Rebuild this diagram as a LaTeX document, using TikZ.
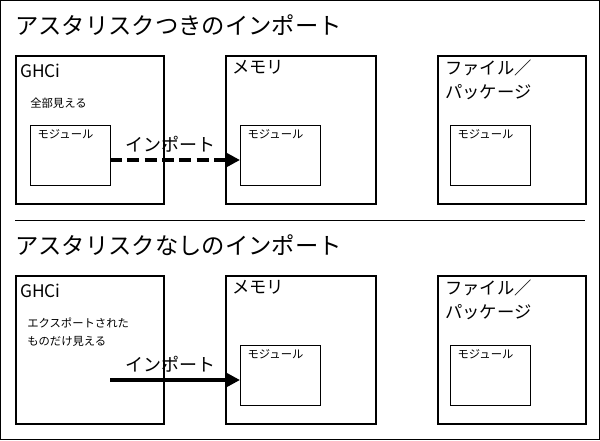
\documentclass[tikz,border=0pt]{standalone}
\usepackage{fontspec}
\setmainfont{Noto Sans CJK JP}
\usetikzlibrary{arrows.meta}
\begin{document}
\begin{tikzpicture}[x=0.75pt,y=-0.75pt,
  box/.style={draw,line width=1.5pt,minimum height=111pt,anchor=north west,inner sep=0},
  inner/.style={draw,fill=white,line width=0.6pt,minimum width=60pt,minimum height=45pt,anchor=north west},
  ttl/.style={anchor=west,font=\fontsize{17.5}{19}\selectfont,inner sep=0},
  lbl/.style={anchor=north west,font=\fontsize{13}{14}\selectfont,inner sep=0},
  sm/.style={anchor=north west,font=\fontsize{8.5}{13}\selectfont,inner sep=0,align=left},
  arr/.style={line width=2.5pt,-{Triangle[length=10pt,width=10pt]}}]
\draw[line width=0.75pt] (0.5,0.5) rectangle (599.5,439.5);
\useasboundingbox (0,0) rectangle (600,440);
\foreach \y/\t/\s in {0/a/アスタリスクつきのインポート, 220/b/アスタリスクなしのインポート}{
  \node[ttl] (t\t) at (15,25+\y) {\s};
  \node[box,minimum width=111pt] (g\t) at (15,55+\y) {};
  \node[box,minimum width=112.5pt] (m\t) at (225,55+\y) {};
  \node[box,minimum width=111pt] (f\t) at (437,55+\y) {};
  \node[lbl] (gl\t) at (20,64+\y) {GHCi};
  \node[lbl] (ml\t) at (232,60+\y) {メモリ};
  \node[lbl,align=left] (fl\t) at (445,60+\y) {ファイル／\\[4pt]パッケージ};
}
\node[sm] (s1) at (30,98) {全部見える};
\node[sm] (s2) at (27,318) {エクスポートされた\\ものだけ見える};
\node[inner] (i1) at (30,125) {};
\node[inner] (i2) at (240,125) {};
\node[inner] (i3) at (450,125) {};
\node[inner] (i4) at (240,345) {};
\node[inner] (i5) at (450,345) {};
\foreach \i in {1,...,5}{\node[sm] at ([xshift=5.5pt,yshift=-3pt]i\i.north west) {モジュール};}
\coordinate (c1) at (110,160);
\coordinate (c2) at (110,380);
\draw[arr,dash pattern=on 9pt off 4pt] (c1) -- (i2.west |- c1);
\draw[arr] (c2) -- (i4.west |- c2);
\node[font=\fontsize{13.5}{14}\selectfont] (al1) at (170,144) {インポート};
\node[font=\fontsize{13.5}{14}\selectfont] (al2) at (170,364) {インポート};
\draw[line width=0.6pt] (15,220) -- (585,220);
\end{tikzpicture}
\end{document}
